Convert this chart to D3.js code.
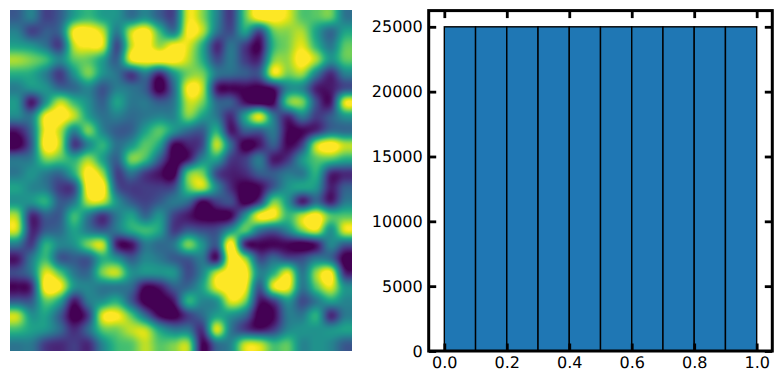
<!DOCTYPE html>
<html><head><meta charset="utf-8">
<script src="https://cdn.jsdelivr.net/npm/d3@7"></script>
<style>html,body{margin:0;padding:0;background:#fff}svg{display:block}text{font-family:"DejaVu Sans",sans-serif;font-size:16px;fill:#000;text-rendering:geometricPrecision}</style>
</head><body><svg id="c" width="782" height="384"></svg>
<script>
// Field values (24 x 24 samples, 0 = dark purple, 1 = yellow)
const fieldRows = [
[.30,.42,.22,.30,.55,.65,.55,.50,.38,.48,.32,.25,.90,.78,.45,.20,.70,1,1,.90,.70,.70,.72,.40],
[.42,.22,.30,.35,.95,1,.85,.42,.85,1,.65,.40,.95,.85,.40,.25,.55,.25,.72,.78,.82,.55,.35,.55],
[.55,.50,.38,.22,.85,.95,.90,.25,.85,1,.80,.95,.90,.60,.15,.38,.20,.05,.62,.76,.90,.62,.40,.70],
[.82,.75,.65,.45,.70,.72,.55,.32,.92,1,1,1,.85,.60,.25,.40,.20,.15,.75,.80,1,.82,.50,.70],
[.60,.58,.42,.20,.50,.75,.50,.38,.20,.40,.15,.50,.75,.75,.40,.35,.30,.30,.90,.75,.80,.42,.15,.42],
[.42,.50,.50,.35,.35,.45,.28,.42,.38,.30,0,.35,.95,.85,.12,.05,.05,.02,.10,.45,.45,.12,.10,.25],
[.50,.10,.50,.85,.65,.48,.32,.55,.40,.40,.30,.40,.85,.75,.35,.30,.08,0,.05,.70,.75,.25,.10,.90],
[.45,.40,.95,1,.85,.55,.38,.42,.35,.40,.45,.45,.75,.55,.40,.15,.55,.90,.40,.15,.40,.20,.30,.50],
[.10,.35,.95,.85,.45,.75,.45,.30,.32,.55,.70,.50,.35,.30,.60,.10,.30,.30,.40,.05,.05,.15,.35,.35],
[0,.30,1,.85,.20,.45,.62,.38,.50,.70,.55,.05,.12,.25,.85,.35,0,.10,.30,.05,.22,.85,1,.85],
[.38,.42,.75,.70,.60,.80,.55,.32,.75,.65,.30,0,.10,.45,.55,.20,.20,.40,.10,.18,.50,.70,.70,.60],
[.40,.50,.42,.35,.60,1,.80,.22,.38,.20,.08,0,.70,.75,.25,.12,.15,.30,.30,.40,.40,.60,.15,.15],
[.55,.45,.40,.20,.25,1,1,.30,.20,.20,.20,.25,.70,.85,.45,.15,0,.05,.30,.50,.55,.50,.12,.30],
[.50,.50,.60,.30,.40,.85,.85,.50,.30,.22,.30,.40,.35,.05,.20,.25,0,.20,.75,.50,.12,.35,.12,.40],
[.80,.15,.30,.30,.65,.40,.18,.40,.55,.35,.50,.22,.10,0,0,.05,.50,.95,.95,.65,.85,1,.70,.70],
[.85,.15,.30,.35,.55,.40,.30,.40,.58,.65,.55,.20,.30,.25,.25,.50,.70,.40,.30,.45,.75,.90,.50,.90],
[.40,.20,.60,.45,.50,.75,.85,.12,.08,.40,.35,.40,.75,.50,.30,1,.15,.05,.05,.05,0,.10,.45,.30],
[.10,.40,.65,.30,.30,.30,.60,.50,.30,.45,.40,.30,.30,.40,.10,1,.80,.25,.35,.25,.25,.40,.35,0],
[.25,.40,.90,.70,.40,.35,.75,.85,.50,.50,.50,.50,.25,.45,.85,1,1,.45,.60,.90,.40,.80,.95,.15],
[.05,.15,1,.95,.50,.45,.40,.40,.35,.05,.10,.30,.35,.55,.92,1,.95,.30,.90,.95,.40,.70,.90,.50],
[.30,.30,.70,.55,.10,.40,.50,.60,.30,0,0,.10,.60,.45,.50,.90,.75,.10,.20,.50,.25,.40,.55,.45],
[.85,.50,.55,.30,0,.20,.90,.95,.70,.35,.05,0,.20,.35,.55,.50,.35,0,.05,.40,.40,.60,.15,.40],
[.65,.55,.50,.35,.15,.35,.70,.75,.85,.85,.55,.40,.40,.18,.88,.40,.20,.10,.20,.45,.50,.50,.50,.55],
[.40,.40,.20,.15,.20,.15,.45,.65,.70,.85,.70,.75,.80,.05,.35,.45,.85,.85,.65,.70,.45,.50,.45,.30]
];
// Histogram
const binEdges = [0,.1,.2,.3,.4,.5,.6,.7,.8,.9,1];
const binCounts = [25000,25000,25000,25000,25000,25000,25000,25000,25000,25000];
const xTicks = [0,.2,.4,.6,.8,1];
const yTicks = [0,5000,10000,15000,20000,25000];

const svg = d3.select("#c");
// --- left panel ---
const L = {x0:10,x1:352,y0:10,y1:351};
const N = fieldRows.length;
const colour = d3.scaleSequential(d3.interpolateViridis).domain([.04,.94]).clamp(true);
const gx = d3.scaleLinear().domain([L.x0,L.x1]).range([-.5,N-.5]);
const gy = d3.scaleLinear().domain([L.y0,L.y1]).range([-.5,N-.5]);
function cr(p0,p1,p2,p3,t){return .5*((2*p1)+(-p0+p2)*t+(2*p0-5*p1+4*p2-p3)*t*t+(-p0+3*p1-3*p2+p3)*t*t*t);}
const at=(r,c)=>fieldRows[Math.max(0,Math.min(N-1,r))][Math.max(0,Math.min(N-1,c))];
function sample(u,v){
  const c=Math.floor(u),r=Math.floor(v),tu=u-c,tv=v-r,col=[];
  for(let j=-1;j<=2;j++)col.push(cr(at(r+j,c-1),at(r+j,c),at(r+j,c+1),at(r+j,c+2),tu));
  return cr(col[0],col[1],col[2],col[3],tv);
}
const W=L.x1-L.x0,H=L.y1-L.y0;
const cv=document.createElement("canvas");cv.width=W;cv.height=H;
const ctx=cv.getContext("2d");const img=ctx.createImageData(W,H);
for(let y=0;y<H;y++)for(let x=0;x<W;x++){
  const v=sample(gx(L.x0+x+.5),gy(L.y0+y+.5));
  const c=d3.rgb(colour(v));const k=(y*W+x)*4;
  img.data[k]=c.r;img.data[k+1]=c.g;img.data[k+2]=c.b;img.data[k+3]=255;
}
ctx.putImageData(img,0,0);
svg.append("image").attr("x",L.x0).attr("y",L.y0).attr("width",W).attr("height",H).attr("href",cv.toDataURL());

// --- right panel ---
const P={l:428.7,r:772.3,t:10.6,b:351};
const x=d3.scaleLinear().domain([-.05,1.05]).range([P.l,P.r]);
const y=d3.scaleLinear().domain([0,26250]).range([P.b,P.t]);
svg.append("g").selectAll("rect").data(binCounts).join("rect")
  .attr("x",(d,i)=>x(binEdges[i])).attr("width",(d,i)=>x(binEdges[i+1])-x(binEdges[i]))
  .attr("y",d=>y(d)).attr("height",d=>y(0)-y(d))
  .attr("fill","#1f77b4").attr("stroke","#000").attr("stroke-width",1.4);
const tickLen=7.5;
function styleAxis(g){g.select(".domain").remove();g.selectAll("line").attr("stroke","#000").attr("stroke-width",2.8);}
svg.append("g").attr("transform",`translate(0,${P.b})`)
  .call(d3.axisBottom(x).tickValues(xTicks).tickFormat(d3.format(".1f")).tickSizeOuter(0).tickSizeInner(-tickLen).tickPadding(5)).call(styleAxis)
  .selectAll("text").attr("fill","#000").style("font-size","16px").style("font-family",'"DejaVu Sans"').attr("y",6).attr("dy","0.71em");
svg.append("g").attr("transform",`translate(0,${P.t})`)
  .call(d3.axisTop(x).tickValues(xTicks).tickFormat("").tickSizeOuter(0).tickSizeInner(-tickLen)).call(styleAxis);
svg.append("g").attr("transform",`translate(${P.l},0)`)
  .call(d3.axisLeft(y).tickValues(yTicks).tickFormat(d3.format("d")).tickSizeOuter(0).tickSizeInner(-tickLen).tickPadding(5)).call(styleAxis)
  .selectAll("text").attr("fill","#000").style("font-size","16px").style("font-family",'"DejaVu Sans"').attr("x",-6);
svg.append("g").attr("transform",`translate(${P.r},0)`)
  .call(d3.axisRight(y).tickValues(yTicks).tickFormat("").tickSizeOuter(0).tickSizeInner(-tickLen)).call(styleAxis);
svg.append("rect").attr("x",P.l).attr("y",P.t).attr("width",P.r-P.l).attr("height",P.b-P.t)
  .attr("fill","none").attr("stroke","#000").attr("stroke-width",3);
</script></body></html>
